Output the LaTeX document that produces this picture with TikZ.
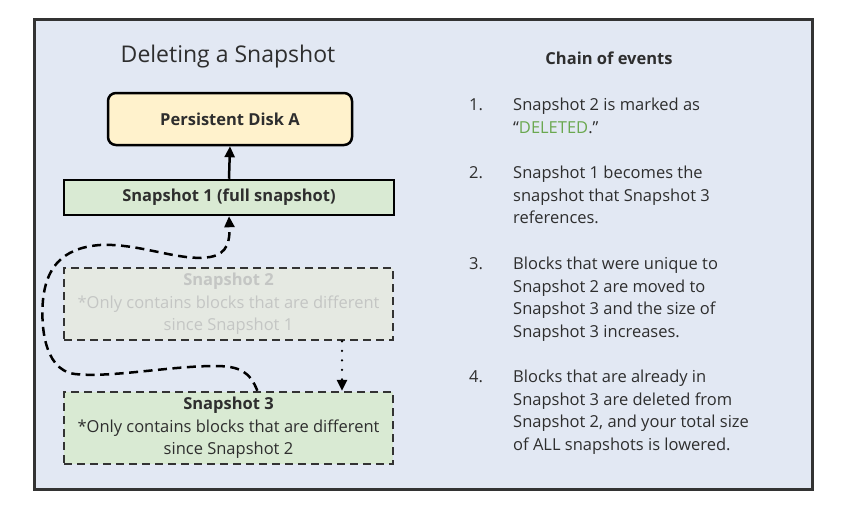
\documentclass[tikz,border=0pt]{standalone}
\usepackage{fontspec}
\setmainfont{Open Sans}
\usetikzlibrary{arrows.meta,calc}
\definecolor{bgc}{HTML}{E2E8F3}
\definecolor{framec}{HTML}{333333}
\definecolor{diskc}{HTML}{FFF2CC}
\definecolor{greenc}{HTML}{D9EAD3}
\definecolor{ghostc}{HTML}{E5E9E2}
\definecolor{ghosttext}{HTML}{C4C6C4}
\definecolor{delc}{HTML}{6AA84F}
\definecolor{txtc}{HTML}{2E2E2E}
\tikzset{
  boxbase/.style={line width=2.5pt, draw=black, inner sep=0pt, text=txtc, align=center},
  bodyfont/.style={font=\fontsize{16.5}{22.5}\selectfont},
  boldfont/.style={font=\fontsize{16.5}{22.5}\selectfont\bfseries},
  dashbox/.style={boxbase, draw=framec, dash pattern=on 8pt off 5pt, bodyfont},
  listnum/.style={anchor=base west, inner sep=0pt, text=txtc, bodyfont},
  listtext/.style={anchor=base west, inner sep=0pt, text=txtc, bodyfont},
  tip/.style={-{Triangle[length=11pt,width=10pt]}},
}
\newcommand{\itemtext}[1]{\parbox[t]{290pt}{\raggedright\fontsize{16.5}{22.5}\selectfont #1}}
\begin{document}
\begin{tikzpicture}[x=1pt,y=-1pt]
\useasboundingbox (0,0) rectangle (846,514);
\node[draw=framec, line width=2.5pt, fill=bgc, minimum width=778pt, minimum height=470pt, inner sep=0pt, anchor=north west] (frame) at (33,18) {};

\node[text=txtc, font=\fontsize{23}{28}\selectfont, inner sep=0pt] (title) at (228,57) {Deleting a Snapshot};

\node[boxbase, fill=diskc, rounded corners=8pt, minimum width=244pt, minimum height=52pt, boldfont] (disk) at (230,119) {Persistent Disk A};
\node[boxbase, fill=greenc, minimum width=330pt, minimum height=35pt, boldfont] (s1) at (229,197.5) {Snapshot 1 (full snapshot)};
\node[dashbox, fill=ghostc, text=ghosttext, minimum width=329pt, minimum height=72pt] (s2) at (228.5,304) {{\bfseries\fontsize{16.5}{22.5}\selectfont Snapshot 2}\\*Only contains blocks that are different\\since Snapshot 1};
\node[dashbox, fill=greenc, minimum width=329pt, minimum height=72pt] (s3) at (228.5,428) {{\bfseries\fontsize{16.5}{22.5}\selectfont Snapshot 3}\\*Only contains blocks that are different\\since Snapshot 2};

\draw[line width=2.5pt, tip] (s1.north) -- (disk.south);

\coordinate (dx) at (342,0);
\draw[line width=2.5pt, line cap=round, dash pattern=on 0pt off 9.5pt, tip] (s2.south -| dx) -- (s3.north -| dx);

\coordinate (cstart) at ($(s3.north west)!0.587!(s3.north east)$);
\draw[line width=2.5pt, dash pattern=on 9pt off 5.5pt, tip]
  (cstart) .. controls (250,372) and (240,366) .. (215,366)
  .. controls (170,366) and (110,378) .. (75,374)
  .. controls (42,370) and (41,320) .. (43,300)
  .. controls (46,270) and (60,248) .. (100,245)
  .. controls (140,243) and (180,262) .. (210,257)
  .. controls (228,254) and (230,240) .. (s1.south);

\node[text=txtc, font=\fontsize{16.5}{20}\selectfont\bfseries, inner sep=0pt] (chain) at (609,58) {Chain of events};

\node[listnum] (n1) at (469,110.5) {1.};
\node[listtext] (t1) at (513,110.5) {\itemtext{Snapshot 2 is marked as\\``\textcolor{delc}{DELETED}.''}};
\node[listnum] (n2) at (469,178.5) {2.};
\node[listtext] (t2) at (513,178.5) {\itemtext{Snapshot 1 becomes the\\snapshot that Snapshot 3\\references.}};
\node[listnum] (n3) at (469,269.5) {3.};
\node[listtext] (t3) at (513,269.5) {\itemtext{Blocks that were unique to\\Snapshot 2 are moved to\\Snapshot 3 and the size of\\Snapshot 3 increases.}};
\node[listnum] (n4) at (469,382.5) {4.};
\node[listtext] (t4) at (513,382.5) {\itemtext{Blocks that are already in\\Snapshot 3 are deleted from\\Snapshot 2, and your total size\\of ALL snapshots is lowered.}};
\end{tikzpicture}
\end{document}
